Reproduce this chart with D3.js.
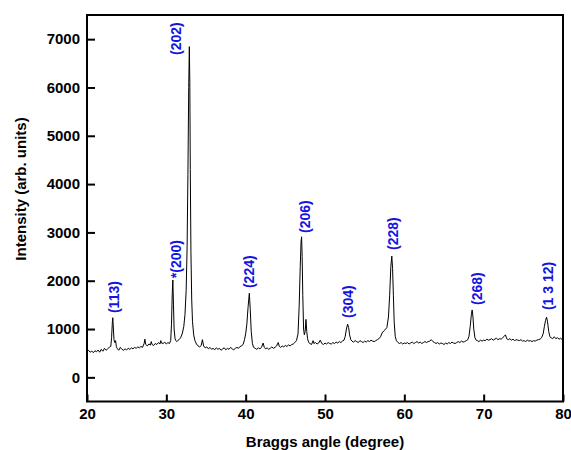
<!DOCTYPE html>
<html>
<head>
<meta charset="utf-8">
<script src="https://cdn.jsdelivr.net/npm/d3@7"></script>
<style>
  html, body { margin: 0; padding: 0; background: #fff; }
  svg { display: block; }
  text { font-family: Arial, "Liberation Sans", sans-serif; font-weight: bold; }
</style>
</head>
<body>
<svg id="chart" width="571" height="450"></svg>
<script>
// XRD scan: [2θ (deg), intensity (arb. units)]
const xrdScan = [
  [20.0,530],[20.2,560],[20.4,520],[20.6,545],[20.8,510],[21.0,550],[21.2,530],[21.4,565],
  [21.6,520],[21.8,580],[22.0,540],[22.2,600],[22.4,560],[22.6,590],[22.8,620],[23.0,640],
  [23.1,820],[23.2,1150],[23.25,1234],[23.3,1100],[23.4,780],[23.5,720],[23.6,760],[23.7,640],
  [23.8,600],[24.0,560],[24.2,620],[24.4,580],[24.6,560],[24.8,590],[25.0,570],[25.2,600],
  [25.4,580],[25.6,610],[25.8,590],[26.0,620],[26.2,600],[26.4,630],[26.6,610],[26.8,640],
  [27.0,620],[27.2,700],[27.3,790],[27.4,680],[27.6,650],[27.8,690],[28.0,670],[28.1,740],
  [28.2,680],[28.4,660],[28.6,700],[28.8,680],[29.0,720],[29.2,690],[29.3,760],[29.4,710],
  [29.6,700],[29.8,730],[30.0,690],[30.2,720],[30.4,700],[30.55,760],[30.65,1100],[30.75,1750],
  [30.82,2015],[30.9,1500],[30.98,1000],[31.1,800],[31.2,760],[31.3,740],[31.45,760],[31.6,780],
  [31.8,820],[32.0,900],[32.2,1050],[32.35,1300],[32.5,1800],[32.62,2700],[32.72,4200],[32.82,6000],
  [32.9,6845],[32.96,6100],[33.02,4300],[33.1,2600],[33.2,1600],[33.3,1150],[33.45,880],[33.6,760],
  [33.8,690],[34.0,650],[34.2,630],[34.4,660],[34.55,780],[34.7,650],[34.9,610],[35.1,630],
  [35.3,590],[35.5,620],[35.7,580],[35.9,600],[36.1,570],[36.3,610],[36.5,580],[36.7,600],
  [36.9,560],[37.1,590],[37.3,610],[37.5,570],[37.7,600],[37.9,580],[38.1,620],[38.3,590],
  [38.5,570],[38.7,600],[38.9,620],[39.1,600],[39.3,640],[39.5,650],[39.7,690],[39.85,780],
  [40.0,900],[40.15,1100],[40.3,1450],[40.46,1740],[40.58,1400],[40.7,950],[40.85,700],[41.0,620],
  [41.2,600],[41.4,580],[41.6,610],[41.8,590],[42.0,620],[42.2,710],[42.35,620],[42.5,590],
  [42.7,610],[42.9,580],[43.1,600],[43.3,630],[43.5,600],[43.7,620],[43.9,650],[44.1,720],
  [44.25,640],[44.4,620],[44.6,650],[44.8,630],[45.0,660],[45.2,640],[45.4,670],[45.6,650],
  [45.8,680],[46.0,690],[46.2,720],[46.4,760],[46.6,900],[46.75,1500],[46.88,2300],[46.98,2800],
  [47.05,2910],[47.12,2500],[47.2,1700],[47.3,1000],[47.4,880],[47.5,950],[47.6,1200],[47.7,950],
  [47.8,800],[47.95,720],[48.1,700],[48.3,680],[48.5,760],[48.6,700],[48.8,720],[49.0,690],
  [49.2,710],[49.4,770],[49.6,700],[49.8,680],[50.0,710],[50.2,690],[50.4,720],[50.6,700],
  [50.8,690],[51.0,720],[51.2,700],[51.4,730],[51.6,710],[51.8,740],[52.0,720],[52.2,750],
  [52.4,770],[52.55,850],[52.7,1000],[52.85,1100],[52.98,1030],[53.1,880],[53.25,780],[53.4,750],
  [53.6,730],[53.8,760],[54.0,740],[54.2,720],[54.4,760],[54.6,740],[54.8,720],[55.0,750],
  [55.2,730],[55.4,760],[55.6,740],[55.8,770],[56.0,750],[56.2,740],[56.4,760],[56.6,780],
  [56.8,800],[57.0,840],[57.2,920],[57.4,960],[57.6,990],[57.8,1030],[58.0,1250],[58.15,1700],
  [58.3,2300],[58.42,2510],[58.52,2250],[58.62,1700],[58.72,1150],[58.85,850],[59.0,760],[59.2,720],
  [59.4,700],[59.6,720],[59.8,690],[60.0,710],[60.2,700],[60.4,720],[60.6,690],[60.8,710],
  [61.0,730],[61.2,700],[61.4,720],[61.6,740],[61.8,710],[62.0,730],[62.2,700],[62.4,720],
  [62.6,740],[62.8,720],[63.0,740],[63.2,750],[63.4,780],[63.6,740],[63.8,720],[64.0,700],
  [64.2,720],[64.4,690],[64.6,710],[64.8,700],[65.0,680],[65.2,710],[65.4,690],[65.6,720],
  [65.8,700],[66.0,730],[66.2,710],[66.4,700],[66.6,720],[66.8,740],[67.0,720],[67.2,750],
  [67.4,730],[67.6,740],[67.8,760],[68.0,780],[68.15,850],[68.3,1050],[68.45,1300],[68.55,1395],
  [68.65,1250],[68.75,1000],[68.9,820],[69.05,770],[69.2,760],[69.4,740],[69.6,770],[69.8,750],
  [70.0,770],[70.2,760],[70.4,790],[70.6,770],[70.8,780],[71.0,800],[71.2,770],[71.4,790],
  [71.6,810],[71.8,780],[72.0,800],[72.2,790],[72.4,820],[72.6,850],[72.75,880],[72.9,800],
  [73.1,780],[73.3,800],[73.5,770],[73.7,790],[73.9,760],[74.1,780],[74.3,770],[74.5,760],
  [74.7,780],[74.9,750],[75.1,760],[75.3,740],[75.5,770],[75.7,750],[75.9,760],[76.1,740],
  [76.3,760],[76.5,750],[76.7,770],[76.9,780],[77.1,790],[77.3,820],[77.5,900],[77.65,1050],
  [77.8,1180],[77.93,1245],[78.05,1150],[78.2,950],[78.35,840],[78.5,820],[78.7,800],[78.9,840],
  [79.1,800],[79.3,820],[79.5,790],[79.7,810],[79.9,780],[80.0,800]
];

// Reflection labels and where each label starts (2θ, intensity)
const peakLabels = ["(113)", "*(200)", "(202)", "(224)", "(206)", "(304)", "(228)", "(268)", "(1 3 12)"];
const labelTheta = [23.4, 31.2, 31.2, 40.4, 47.5, 52.85, 58.6, 69.1, 78.05];
const labelIntensity = [1331, 2052, 6673, 1848, 2988, 1228, 2636, 1497, 1393];

const xTicks = [20, 30, 40, 50, 60, 70, 80];
const yTicks = [0, 1000, 2000, 3000, 4000, 5000, 6000, 7000];

const svg = d3.select("#chart");
const plotLeft = 87, plotRight = 563, plotTop = 15, plotBottom = 401.5;

const x = d3.scaleLinear().domain([20, 80]).range([plotLeft, plotRight]);
const y = d3.scaleLinear().domain([-500, 7500]).range([plotBottom, plotTop]);

svg.append("rect").attr("width", 571).attr("height", 450).attr("fill", "#fff");

// Axes with inward ticks
const yAxis = svg.append("g")
  .attr("transform", `translate(${plotLeft},0)`)
  .call(d3.axisLeft(y).tickValues(yTicks).tickSize(-8).tickPadding(7).tickFormat(d3.format("d")));
const xAxis = svg.append("g")
  .attr("transform", `translate(0,${plotBottom})`)
  .call(d3.axisBottom(x).tickValues(xTicks).tickSize(-7).tickPadding(7).tickFormat(d3.format("d")));

[yAxis, xAxis].forEach(g => {
  g.select(".domain").remove();
  g.selectAll(".tick line").attr("stroke", "#000").attr("stroke-width", 2);
  g.selectAll(".tick text").attr("fill", "#000")
    .style("font-size", "15px").style("font-family", "Arial, 'Liberation Sans', sans-serif")
    .style("font-weight", "bold");
});

// Diffraction pattern
const line = d3.line().x(d => x(d[0])).y(d => y(d[1]));
svg.append("path")
  .datum(xrdScan)
  .attr("d", line)
  .attr("fill", "none")
  .attr("stroke", "#000")
  .attr("stroke-width", 1)
  .attr("stroke-linejoin", "round");

// Frame
svg.append("rect")
  .attr("x", plotLeft).attr("y", plotTop)
  .attr("width", plotRight - plotLeft).attr("height", plotBottom - plotTop)
  .attr("fill", "none").attr("stroke", "#000").attr("stroke-width", 2);

// Peak labels
svg.append("g").selectAll("text")
  .data(peakLabels)
  .join("text")
  .attr("transform", (d, i) => `translate(${x(labelTheta[i])},${y(labelIntensity[i])}) rotate(-90)`)
  .attr("text-anchor", "start")
  .attr("dominant-baseline", "central")
  .attr("fill", "#1414e0")
  .style("font-size", "14px")
  .text(d => d);

// Axis titles
svg.append("text")
  .attr("x", (plotLeft + plotRight) / 2).attr("y", 447)
  .attr("text-anchor", "middle")
  .style("font-size", "15px")
  .text("Braggs angle (degree)");

svg.append("text")
  .attr("transform", "translate(26,189) rotate(-90)")
  .attr("text-anchor", "middle")
  .style("font-size", "15px")
  .text("Intensity (arb. units)");
</script>
</body>
</html>
